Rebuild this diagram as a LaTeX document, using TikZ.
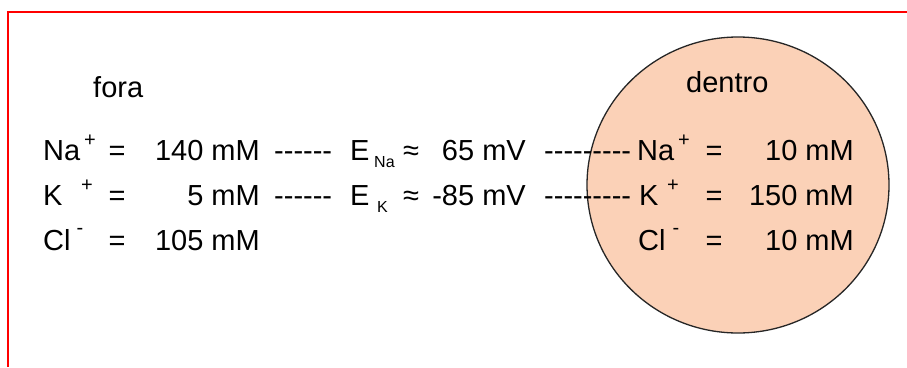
\documentclass[tikz,border=0pt]{standalone}
\usepackage{fontspec}
\setmainfont{Liberation Sans}[Ligatures=TeXOff]
\newcommand{\bigf}{\fontsize{29}{34}\selectfont}
\newcommand{\supf}{\fontsize{20}{24}\selectfont}
\newcommand{\subf}{\fontsize{16}{19}\selectfont}
\definecolor{cellfill}{RGB}{251,209,183}
\definecolor{frame}{RGB}{255,0,0}
\tikzset{
  txt/.style={font=\bigf, inner sep=0pt, anchor=base west},
  txte/.style={font=\bigf, inner sep=0pt, anchor=base east},
  txtc/.style={font=\bigf, inner sep=0pt, anchor=base},
  supx/.style={font=\supf, inner sep=0pt, anchor=center},
  subx/.style={font=\subf, inner sep=0pt, anchor=base west},
}
\begin{document}
\begin{tikzpicture}[x=1pt,y=-1pt]
\useasboundingbox (0,0) rectangle (907,367);
\fill[white] (0,0) rectangle (907,367);
% frame
\draw[frame, line width=2pt] (907,12) -- (8,12) -- (8,367);
% cell
\draw[fill=cellfill, draw=black!85, line width=1.3pt] (738,185) ellipse [x radius=151, y radius=148];
% labels
\node[txt] (fora) at (93,97) {fora};
\node[txt] (dentro) at (686,92) {dentro};
% left column
\node[txt] (naL) at (43,160) {Na};
\node[supx] (naLs) at (90,141) {+};
\node[txtc] (eq1) at (117,160) {=};
\node[txte] (c1) at (260,160) {140 mM};
\node[txt] (kL) at (43,205) {K};
\node[supx] (kLs) at (87,186) {+};
\node[txtc] (eq2) at (117,205) {=};
\node[txte] (c2) at (260,205) {5 mM};
\node[txt] (clL) at (43,250) {Cl};
\node[supx] (clLs) at (80,231) {-};
\node[txtc] (eq3) at (117,250) {=};
\node[txte] (c3) at (260,250) {105 mM};
% middle
\node[txt] (d1) at (274,160) {------};
\node[txt] (d2) at (274,205) {------};
\node[txt] (eNa) at (350,160) {E};
\node[subx] (eNas) at (374,167) {Na};
\node[txtc] (ap1) at (411,160) {≈};
\node[txte] (v1) at (526,160) {65 mV};
\node[txt] (eK) at (350,205) {E};
\node[subx] (eKs) at (377,212) {K};
\node[txtc] (ap2) at (411,205) {≈};
\node[txte] (v2) at (526,205) {-85 mV};
\node[txt] (r1) at (544,160) {---------};
\node[txt] (r2) at (544,205) {---------};
% right column
\node[txt] (naR) at (637,160) {Na};
\node[supx] (naRs) at (684,141) {+};
\node[txtc] (eq4) at (714,160) {=};
\node[txte] (c4) at (854,160) {10 mM};
\node[txt] (kR) at (639,205) {K};
\node[supx] (kRs) at (673,186) {+};
\node[txtc] (eq5) at (714,205) {=};
\node[txte] (c5) at (854,205) {150 mM};
\node[txt] (clR) at (638,250) {Cl};
\node[supx] (clRs) at (676,231) {-};
\node[txtc] (eq6) at (714,250) {=};
\node[txte] (c6) at (854,250) {10 mM};
\end{tikzpicture}
\end{document}
